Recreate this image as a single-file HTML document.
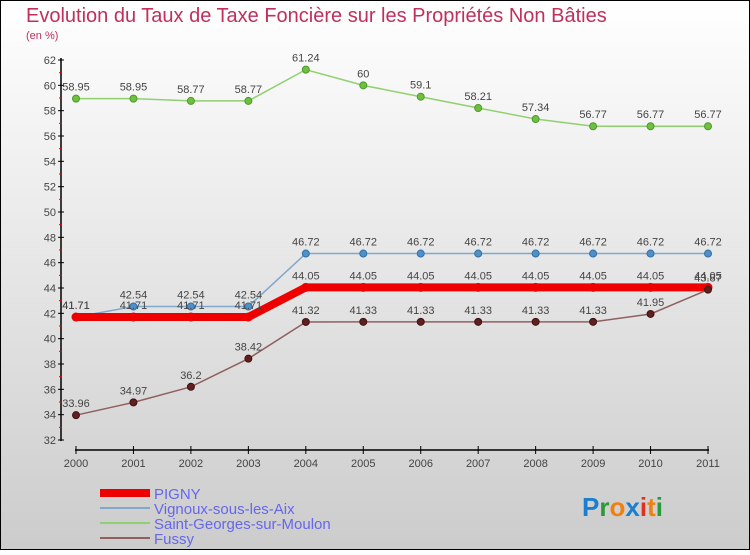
<!DOCTYPE html>
<html><head><meta charset="utf-8"><style>
body{margin:0;width:750px;height:550px;overflow:hidden;font-family:"Liberation Sans",sans-serif}
</style></head><body>
<svg id="c" width="750" height="550" xmlns="http://www.w3.org/2000/svg">
<defs><linearGradient id="bg" x1="0" y1="0" x2="0" y2="1"><stop offset="0" stop-color="#ffffff"/><stop offset="1" stop-color="#cccccc"/></linearGradient></defs>
<rect x="0.5" y="0.5" width="749" height="549" fill="url(#bg)" stroke="#000"/>
<text x="26" y="22" font-size="20" fill="#c0305a">Evolution du Taux de Taxe Foncière sur les Propriétés Non Bâties</text>
<text x="26" y="39" font-size="11" fill="#c0305a">(en %)</text>
<g id="axes"></g><g id="series"></g>
<g font-size="15" fill="#6666ee">
<rect x="100" y="489" width="50" height="8" fill="#e00"/><text x="154" y="499" fill="#6666ee">PIGNY</text>
<line x1="100" y1="508" x2="150" y2="508" stroke="#80a8cc" stroke-width="2"/><text x="154" y="514" fill="#6666ee">Vignoux-sous-les-Aix</text>
<line x1="100" y1="523" x2="150" y2="523" stroke="#90d070" stroke-width="2"/><text x="154" y="529" fill="#6666ee">Saint-Georges-sur-Moulon</text>
<line x1="100" y1="538" x2="150" y2="538" stroke="#906060" stroke-width="2"/><text x="154" y="544" fill="#6666ee">Fussy</text>
</g>
<text x="582" y="516" font-size="26" font-weight="bold"><tspan fill="#1a7fd0">P</tspan><tspan fill="#2a9a3a">r</tspan><tspan fill="#f08010">o</tspan><tspan fill="#1a7fd0">x</tspan><tspan fill="#e03020">i</tspan><tspan fill="#f08010">t</tspan><tspan fill="#2a9a3a">i</tspan></text>
</svg>
<script>
const years=[2000,2001,2002,2003,2004,2005,2006,2007,2008,2009,2010,2011];
const yTicks=[32,34,36,38,40,42,44,46,48,50,52,54,56,58,60,62];
const pigny=[41.71,41.71,41.71,41.71,44.05,44.05,44.05,44.05,44.05,44.05,44.05,44.05];
const vignoux=[41.71,42.54,42.54,42.54,46.72,46.72,46.72,46.72,46.72,46.72,46.72,46.72];
const stgeorges=[58.95,58.95,58.77,58.77,61.24,60,59.1,58.21,57.34,56.77,56.77,56.77];
const fussy=[33.96,34.97,36.2,38.42,41.32,41.33,41.33,41.33,41.33,41.33,41.95,43.87];
const NS='http://www.w3.org/2000/svg';
const X=i=>76+i*(632/11);
const Y=v=>440-(v-32)*(380/30);
function mk(tag,attrs,parent,txt){const e=document.createElementNS(NS,tag);for(const k in attrs)e.setAttribute(k,attrs[k]);if(txt!==undefined)e.textContent=txt;parent.appendChild(e);return e;}
const ax=document.getElementById('axes');
let e=mk('line',{x1:61,y1:58,x2:61,y2:441,stroke:'#000','stroke-width':1.5},ax);

e=mk('line',{x1:75,y1:450,x2:709,y2:450,stroke:'#000','stroke-width':1.5},ax);

yTicks.forEach((t,i)=>{
 e=mk('line',{x1:58,y1:Y(t),x2:64,y2:Y(t),stroke:'#000'},ax);
 
 if(i<yTicks.length-1){e=mk('line',{x1:59,y1:Y(t+1),x2:62,y2:Y(t+1),stroke:'#e00'},ax);
 }
 e=mk('text',{x:56,y:Y(t)+4,'font-size':11,fill:'#444','text-anchor':'end'},ax,t);
 
});
years.forEach((yr,i)=>{
 e=mk('line',{x1:X(i),y1:446,x2:X(i),y2:454,stroke:'#000'},ax);
 
 e=mk('text',{x:X(i),y:467,'font-size':11,fill:'#444','text-anchor':'middle'},ax,yr);
 
});
const sg=document.getElementById('series');
function series(name,vals,color,w,dot,dotStroke,r){
 const g=mk('g',{},sg);
 const p=mk('polyline',{points:vals.map((v,i)=>X(i)+','+Y(v)).join(' '),fill:'none',stroke:color,'stroke-width':w},g);
 
 vals.forEach((v,i)=>{
  const c=mk('circle',{cx:X(i),cy:Y(v),r:r,fill:dot,stroke:dotStroke,'stroke-width':1},g);
  
  const t=mk('text',{x:X(i),y:Y(v)-8,'font-size':11,fill:'#444','text-anchor':'middle'},g,String(v));
  
 });
}
series('stgeorges',stgeorges,'#90d070',1.5,'#70c040','#4a9a2a',3.5);
series('vignoux',vignoux,'#80a8cc',1.5,'#5090c8','#3070a8',3.5);
series('pigny',pigny,'#e00',8,'#e00','#e00',4);
series('fussy',fussy,'#906060',1.5,'#602020','#401010',3.5);
</script>
</body></html>
